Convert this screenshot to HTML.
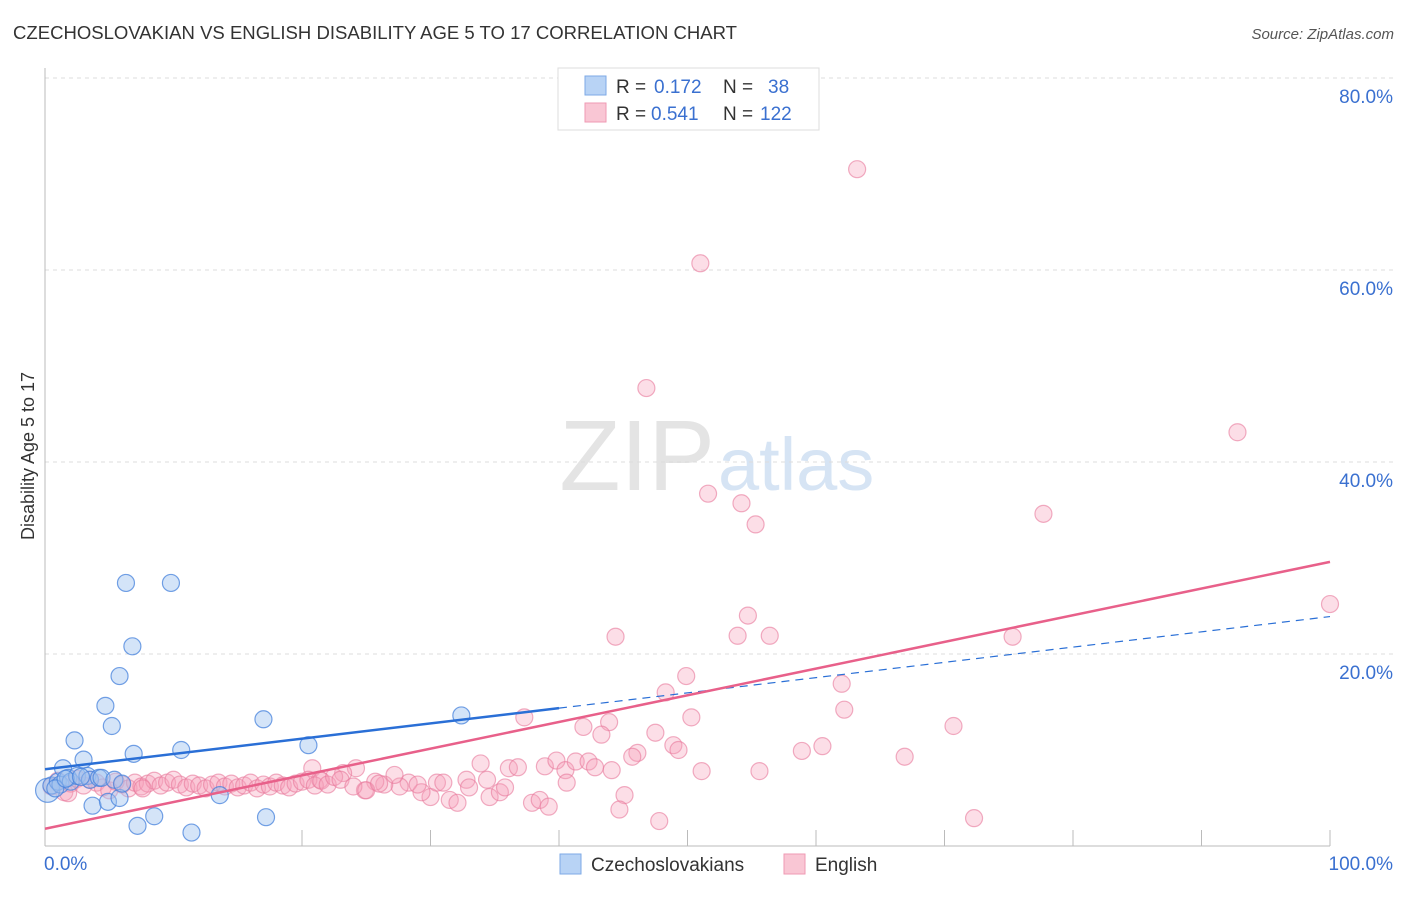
<!DOCTYPE html>
<html><head><meta charset="utf-8">
<style>
body{margin:0;background:#fff;font-family:"Liberation Sans",sans-serif;}
svg text{font-family:"Liberation Sans",sans-serif;}
</style></head>
<body>
<svg id="chart" width="1406" height="892" xmlns="http://www.w3.org/2000/svg">
<text x="13" y="39" font-size="18" fill="#333" textLength="724" lengthAdjust="spacingAndGlyphs">CZECHOSLOVAKIAN VS ENGLISH DISABILITY AGE 5 TO 17 CORRELATION CHART</text>
<text x="1394" y="39" font-size="15" fill="#555" text-anchor="end" font-style="italic">Source: ZipAtlas.com</text>
<text x="34" y="456" font-size="18" fill="#333" text-anchor="middle" transform="rotate(-90 34 456)">Disability Age 5 to 17</text>
<text x="715" y="490" font-size="100" fill="#e4e4e4" text-anchor="end" font-family="Liberation Serif">ZIP</text>
<text x="718" y="490" font-size="74" fill="#d6e4f4">atlas</text>
<g id="grid"></g>
<g id="axes"></g>
<g id="pts"></g>
<g id="trends"></g>
<g>
<rect x="558" y="68" width="261" height="62" fill="#fff" stroke="#ddd"/>
<rect x="585" y="76" width="21" height="19" fill="#b8d3f5" stroke="#7ea9e6"/>
<rect x="585" y="103" width="21" height="19" fill="#f9c6d4" stroke="#ef9ab3"/>
<text x="616" y="93" font-size="19" fill="#333">R = </text><text x="654" y="93" font-size="19" fill="#3a70d0">0.172</text>
<text x="723" y="93" font-size="19" fill="#333">N = </text><text x="768" y="93" font-size="19" fill="#3a70d0">38</text>
<text x="616" y="120" font-size="19" fill="#333">R = </text><text x="651" y="120" font-size="19" fill="#3a70d0">0.541</text>
<text x="723" y="120" font-size="19" fill="#333">N = </text><text x="760" y="120" font-size="19" fill="#3a70d0">122</text>
</g>
<g>
<rect x="560" y="854" width="21" height="20" fill="#b8d3f5" stroke="#7ea9e6"/>
<text x="591" y="871" font-size="19" fill="#333">Czechoslovakians</text>
<rect x="784" y="854" width="21" height="20" fill="#f9c6d4" stroke="#ef9ab3"/>
<text x="815" y="871" font-size="19" fill="#333">English</text>
</g>
</svg>
<script>
const yTicks=[20,40,60,80];
const yTickLabels=["20.0%","40.0%","60.0%","80.0%"];
const xTickLabels=["0.0%","100.0%"];
const czX=[0.2,0.5,1,1.2,1.4,1.8,2,2.3,2.5,3,3.3,3.5,3.7,4.2,4.4,4.7,4.9,5.2,5.4,5.8,5.8,6.3,6.8,6.9,7.2,8.5,9.8,10.6,11.4,13.6,17,17.2,20.5,32.4,0.8,1.6,2.8,6];
const czY=[5.8,6.3,6.7,6.4,8.1,7.1,6.7,11,7.3,9,7.3,6.9,4.2,7.1,7.1,14.6,4.6,12.5,6.9,17.7,5,27.4,20.8,9.6,2.1,3.1,27.4,10,1.4,5.3,13.2,3,10.5,13.6,6.0,7.0,7.2,6.5];
const enX=[63.2,51,46.8,92.8,51.6,54.2,55.3,77.7,100,54.7,44.4,53.9,56.4,75.3,49.9,48.3,62,62.2,37.3,50.3,43.9,41.9,43.3,70.7,47.5,48.9,49.3,60.5,58.9,46.1,45.7,66.9,33.9,36.1,36.8,38.9,39.8,40.5,41.3,42.3,42.8,40.6,44.1,51.1,55.6,45.1,44.7,47.8,72.3,37.9,38.5,39.2,34.6,35.4,35.8,31.5,32.1,30,29.3,28.3,27.6,26.4,25.7,24.9,24.2,23.2,20.8,21.4,27.2,30.5,32.8,34.4,
0.5,1,1.5,2,2.5,3,3.5,4,4.5,5,5.5,6,6.5,7,7.5,8,8.5,9,9.5,10,10.5,11,11.5,12,12.5,13,13.5,14,14.5,15,15.5,16,16.5,17,17.5,18,18.5,19,19.5,20,20.5,21,21.5,22,22.5,23,24,25,26,29,31,33,1.8,7.6];
const enY=[70.5,60.7,47.7,43.1,36.7,35.7,33.5,34.6,25.2,24,21.8,21.9,21.9,21.8,17.7,16,16.9,14.2,13.4,13.4,12.9,12.4,11.6,12.5,11.8,10.5,10,10.4,9.9,9.7,9.3,9.3,8.6,8.1,8.2,8.3,8.9,7.9,8.8,8.8,8.2,6.6,7.9,7.8,7.8,5.3,3.8,2.6,2.9,4.5,4.8,4.1,5.1,5.6,6.1,4.8,4.5,5.1,5.6,6.6,6.2,6.4,6.7,5.8,8.1,7.6,8.1,6.9,7.4,6.6,6.9,6.9,
6.2,6.8,5.6,6.5,7.0,6.3,6.9,6.6,6.1,5.8,6.7,6.4,6.0,6.6,6.2,6.5,6.8,6.3,6.6,6.9,6.4,6.1,6.5,6.3,6.0,6.4,6.6,6.2,6.5,6.1,6.3,6.6,6.0,6.4,6.2,6.6,6.3,6.1,6.5,6.7,6.9,6.3,6.8,6.4,7.2,6.9,6.2,5.8,6.5,6.4,6.6,6.1,5.5,6.0];
const czTrend=[8.0,23.9];
const enTrend=[1.8,29.6];
const X=v=>45+v*12.85, Y=v=>846-v*9.6;
const NS="http://www.w3.org/2000/svg";
function mk(t,a,p){const e=document.createElementNS(NS,t);for(const k in a)e.setAttribute(k,a[k]);p.appendChild(e);return e;}
const grid=document.getElementById('grid'),axes=document.getElementById('axes'),pts=document.getElementById('pts'),tr=document.getElementById('trends');
yTicks.forEach((t,i)=>{
 const l=mk('line',{x1:45,x2:1394,y1:Y(t),y2:Y(t),stroke:'#ddd','stroke-dasharray':'4,4'},grid);
 
 
 const tx=mk('text',{x:1393,y:Y(t)+25,'font-size':19,fill:'#3a70d0','text-anchor':'end'},grid);tx.textContent=yTickLabels[i];
 
 
});
const ya=mk('line',{x1:45,x2:45,y1:68,y2:846,stroke:'#bbb'},axes);


const xa=mk('line',{x1:45,x2:1330,y1:846,y2:846,stroke:'#bbb'},axes);


for(let k=2;k<=10;k++){const t=mk('line',{x1:X(k*10),x2:X(k*10),y1:830,y2:846,stroke:'#bbb'},axes);
 
 }
[[0,'start',44],[100,'end',1393]].forEach((d,i)=>{const t=mk('text',{x:d[2],y:870,'font-size':19,fill:'#3a70d0','text-anchor':d[1]},axes);t.textContent=xTickLabels[i];
 
 });
enX.forEach((x,i)=>{const c=mk('circle',{cx:X(x),cy:Y(enY[i]),r:8.5,fill:'rgba(245,160,185,0.35)',stroke:'rgba(232,120,155,0.6)','stroke-width':1.2},pts);
 
 });
czX.forEach((x,i)=>{const c=mk('circle',{cx:X(x),cy:Y(czY[i]),r:i==0?12:8.5,fill:'rgba(160,195,240,0.45)',stroke:'rgba(70,130,220,0.75)','stroke-width':1.2},pts);
 
 });
const cz=v=>czTrend[0]+(czTrend[1]-czTrend[0])*v/100;
let l1=mk('line',{x1:X(0),y1:Y(cz(0)),x2:X(40),y2:Y(cz(40)),stroke:'#2a6fd6','stroke-width':2.5},tr);


let l2=mk('line',{x1:X(40),y1:Y(cz(40)),x2:X(100),y2:Y(cz(100)),stroke:'#2a6fd6','stroke-width':1.2,'stroke-dasharray':'8,6'},tr);


let l3=mk('line',{x1:X(0),y1:Y(enTrend[0]),x2:X(100),y2:Y(enTrend[1]),stroke:'#e8608a','stroke-width':2.5},tr);


</script>
</body></html>
